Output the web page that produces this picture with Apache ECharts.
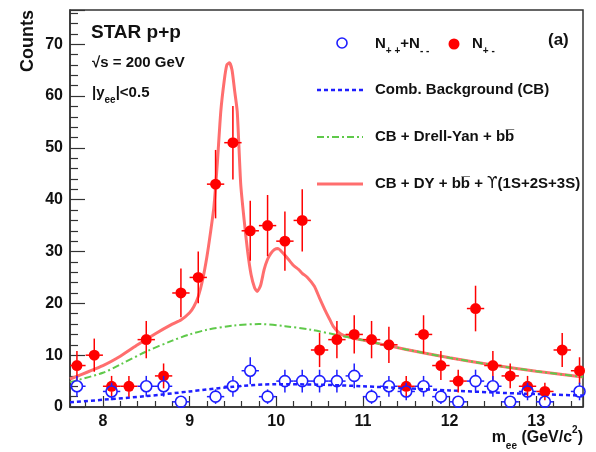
<!DOCTYPE html>
<html><head><meta charset="utf-8">
<script src="https://cdn.jsdelivr.net/npm/echarts@6/dist/echarts.min.js"></script>
<style>html,body{margin:0;padding:0;background:#fff}#c{width:596px;height:452px}</style>
</head><body><div id="c"></div>
<script>
// ---- data ----
const binCenters = [7.7,7.9,8.1,8.3,8.5,8.7,8.9,9.1,9.3,9.5,9.7,9.9,10.1,10.3,10.5,10.7,10.9,11.1,11.3,11.5,11.7,11.9,12.1,12.3,12.5,12.7,12.9,13.1,13.3,13.5];
const unlikeSign    = [8,10,4,4,13,6,22,25,43,51,34,35,32,36,11,13,14,13,12,4,14,8,5,19,8,6,4,3,11,7];
const unlikeSignErr = [2.8,3.2,2,2,3.6,2.4,4.7,5,6.6,7.1,5.8,5.9,5.7,6,3.3,3.6,3.7,3.6,3.5,2,3.7,2.8,2.2,4.4,2.8,2.4,2,1.7,3.3,2.6];
const likeSign      = [4,null,3,null,4,4,1,null,2,4,7,2,5,5,5,5,6,2,4,3,4,2,1,5,4,1,3,1,null,3];
const likeSignErr   = [2,null,1.7,null,2,2,1,null,1.4,2,2.6,1.4,2.2,2.2,2.2,2.2,2.4,1.4,2,1.7,2,1.4,1,2.2,2,1,1.7,1,null,1.7];
const binHalfWidth = 0.1;

const cbX = [7.62,8.0,8.5,9.0,9.5,10.0,10.5,11.0,11.5,12.0,12.5,13.0,13.54];
const cbY = [0.9,1.4,2.1,3.0,3.9,4.4,4.3,4.0,3.6,3.2,2.8,2.5,2.2];

const dyX = [7.62,8.0,8.2,8.5,8.8,9.0,9.2,9.5,9.8,10.1,10.4,10.7,11.0,11.5,12.0,12.5,13.0,13.54];
const dyY = [4.8,6.6,8.2,10.7,12.8,14.0,14.9,15.7,16.0,15.6,14.9,13.9,12.9,11.1,9.5,8.1,6.9,5.8];

const totX = [7.62,8.0,8.2,8.4,8.6,8.8,8.9,9.0,9.05,9.1,9.15,9.2,9.24,9.28,9.32,9.36,9.4,9.43,9.46,9.49,9.52,9.55,9.59,9.63,9.67,9.71,9.75,9.78,9.82,9.86,9.9,9.94,9.98,10.02,10.06,10.1,10.14,10.2,10.26,10.3,10.36,10.44,10.5,10.56,10.62,10.66,10.72,10.78,11.0,11.5,12.0,12.5,13.0,13.54];
const totY = [5.4,8.0,9.8,12.0,14.1,16.0,16.8,18.2,19.4,21.3,24.5,29,33.5,38.5,47,57,63,66,66.4,65,61,57,43,36,30,25.5,23,22.3,23.5,26.5,28.5,29.7,30.4,30.6,30,29.3,28.5,27.3,26.5,25.8,25,23.3,21,18.8,16.8,15.5,14.4,13.8,12.9,11.1,9.5,8.1,6.9,5.8];

const xTickLabels = [8,9,10,11,12,13];
const yTickLabels = [0,10,20,30,40,50,60,70];
const xRange = [7.62, 13.54];
const yRange = [0, 76.6];

// ---- build ----
const pair = (xs, ys) => xs.map((x,i)=>[x, ys[i]]);
const unlikeData = binCenters.map((x,i)=>[x, unlikeSign[i], unlikeSignErr[i]]);
const likeData = binCenters.map((x,i)=>[x, likeSign[i], likeSignErr[i]]).filter(d=>d[1]!=null);

function errRender(color, gap) {
  return function(params, api) {
    const x = api.value(0), y = api.value(1), e = api.value(2);
    const c = api.coord([x, y]);
    const top = api.coord([x, y + e]);
    const bot = api.coord([x, Math.max(y - e, yRange[0])]);
    const l = api.coord([x - binHalfWidth, y]);
    const r = api.coord([x + binHalfWidth, y]);
    const st = {stroke: color, lineWidth: 1.5};
    const ch = [];
    if (c[1] - gap > top[1]) ch.push({type:'line', shape:{x1:c[0],y1:top[1],x2:c[0],y2:c[1]-gap}, style:st});
    if (bot[1] > c[1] + gap) ch.push({type:'line', shape:{x1:c[0],y1:c[1]+gap,x2:c[0],y2:bot[1]}, style:st});
    ch.push({type:'line', shape:{x1:l[0],y1:c[1],x2:c[0]-gap,y2:c[1]}, style:st});
    ch.push({type:'line', shape:{x1:c[0]+gap,y1:c[1],x2:r[0],y2:c[1]}, style:st});
    return {type:'group', children: ch};
  };
}

const FONT = '"Liberation Sans", Arial, Helvetica, sans-serif';
const RED = '#ff0000', BLUE = '#1e1eff', LRED = '#ff6e6e', GREEN = '#5fc94a';
const SUB = {font:'bold 10px '+FONT, fill:'#111', lineHeight:11, verticalAlign:'bottom'};
const SUP = {font:'bold 10px '+FONT, fill:'#111', lineHeight:11, verticalAlign:'top'};

const chart = echarts.init(document.getElementById('c'), null, {renderer:'canvas'});
chart.setOption({
  animation: false,
  backgroundColor: '#fff',
  grid: {left: 70, right: 13, top: 10, bottom: 45, show: true, borderColor: '#333', borderWidth: 1.5, backgroundColor: 'transparent'},
  xAxis: {
    type: 'value', min: xRange[0], max: xRange[1],
    axisLine: {show: true, onZero: false, lineStyle: {color: '#333', width: 1.5}},
    axisTick: {show: true, inside: true, length: 11, lineStyle: {color: '#333', width: 1.2}},
    minorTick: {show: true, splitNumber: 5, length: 6, lineStyle: {color: '#333', width: 1.2}},
    axisLabel: {show: true, margin: 7, color: '#111', fontFamily: FONT, fontWeight: 'bold', fontSize: 16,
      formatter: v => xTickLabels.indexOf(Math.round(v*1000)/1000) >= 0 ? String(Math.round(v)) : ''},
    splitLine: {show: false}, minorSplitLine: {show: false}
  },
  yAxis: {
    type: 'value', min: yRange[0], max: yRange[1], interval: 10,
    axisLine: {show: true, lineStyle: {color: '#333', width: 1.5}},
    axisTick: {show: true, inside: true, length: 15, lineStyle: {color: '#333', width: 1.2}},
    minorTick: {show: true, splitNumber: 5, length: 8, lineStyle: {color: '#333', width: 1.2}},
    axisLabel: {show: true, margin: 7, color: '#111', fontFamily: FONT, fontWeight: 'bold', fontSize: 16,
      formatter: v => yTickLabels.indexOf(v) >= 0 ? String(v) : ''},
    splitLine: {show: false}
  },
  series: [
    {type:'line', name:'CB + DY + bb + Upsilon', data: pair(totX, totY), showSymbol:false, smooth:0.2,
      lineStyle:{color: LRED, width: 3}, z: 2},
    {type:'line', name:'CB + Drell-Yan + bb', data: pair(dyX, dyY), showSymbol:false, smooth:0.3,
      lineStyle:{color: GREEN, width: 2, type:[7,3,2,3]}, z: 3},
    {type:'line', name:'Comb. Background (CB)', data: pair(cbX, cbY), showSymbol:false, smooth:0.3,
      lineStyle:{color: BLUE, width: 2.5, type:[4,3]}, z: 3},
    {type:'custom', name:'N+- err', data: unlikeData, renderItem: errRender(RED, 5), encode:{x:0,y:1}, z: 4, clip: true},
    {type:'scatter', name:'N+-', data: unlikeData.map(d=>[d[0],d[1]]), symbol:'circle', symbolSize: 11,
      itemStyle:{color: RED, opacity: 1}, z: 5},
    {type:'custom', name:'N++ + N-- err', data: likeData, renderItem: errRender(BLUE, 5.5), encode:{x:0,y:1}, z: 6, clip: true},
    {type:'scatter', name:'N++ + N--', data: likeData.map(d=>[d[0],d[1]]), symbol:'circle', symbolSize: 11,
      itemStyle:{color: 'rgba(255,255,255,0)', borderColor: BLUE, borderWidth: 1.6, opacity: 1}, z: 7}
  ],
  graphic: [
    {type:'text', x:91, y:33, style:{text:'STAR p+p', font:'bold 19px '+FONT, fill:'#111', verticalAlign:'middle'}},
    {type:'text', x:92, y:63, style:{text:'√s = 200 GeV', font:'bold 15px '+FONT, fill:'#111', verticalAlign:'middle'}},
    {type:'text', x:92, y:93, style:{text:'{m||y}{s|ee}{m||<0.5}', font:'bold 15px '+FONT, fill:'#111', verticalAlign:'middle',
      rich:{m:{font:'bold 15px '+FONT, fill:'#111', lineHeight:24, verticalAlign:'middle'}, s:SUB}}},
    {type:'text', x:28, y:41, rotation:Math.PI/2, style:{text:'Counts', font:'bold 18px '+FONT, fill:'#111', align:'center', verticalAlign:'middle'}},
    {type:'text', x:583, y:438, style:{text:'{m|m}{s|ee}{m| (GeV/c}{p|2}{m|)}', align:'right', verticalAlign:'middle', fill:'#111',
      rich:{m:{font:'bold 16px '+FONT, fill:'#111', lineHeight:26, verticalAlign:'middle'}, s:SUB, p:SUP}}},
    // legend
    {type:'circle', shape:{cx:342, cy:43, r:5}, style:{fill:'#fff', stroke:BLUE, lineWidth:1.6}},
    {type:'text', x:375, y:44, style:{text:'{m|N}{s|+ +}{m|+N}{s|- -}', verticalAlign:'middle', fill:'#111',
      rich:{m:{font:'bold 15px '+FONT, fill:'#111', lineHeight:24, verticalAlign:'middle'}, s:SUB}}},
    {type:'circle', shape:{cx:454, cy:44, r:5.5}, style:{fill:RED}},
    {type:'text', x:472, y:44, style:{text:'{m|N}{s|+ -}', verticalAlign:'middle', fill:'#111',
      rich:{m:{font:'bold 15px '+FONT, fill:'#111', lineHeight:24, verticalAlign:'middle'}, s:SUB}}},
    {type:'text', x:548, y:40, style:{text:'(a)', font:'bold 17px '+FONT, fill:'#111', verticalAlign:'middle'}},
    {type:'line', shape:{x1:317, y1:90, x2:363, y2:90}, style:{stroke:BLUE, lineWidth:2.5, lineDash:[4,3]}},
    {type:'text', x:375, y:90, style:{text:'Comb. Background (CB)', font:'bold 15px '+FONT, fill:'#111', verticalAlign:'middle'}},
    {type:'line', shape:{x1:317, y1:137, x2:363, y2:137}, style:{stroke:GREEN, lineWidth:2, lineDash:[7,3,2,3]}},
    {type:'text', x:375, y:137, style:{text:'CB + Drell-Yan + bb\u0305', font:'bold 15px '+FONT, fill:'#111', verticalAlign:'middle'}},
    {type:'line', shape:{x1:317, y1:184, x2:363, y2:184}, style:{stroke:LRED, lineWidth:3}},
    {type:'text', x:375, y:184, style:{text:'{m|CB + DY + bb\u0305 + }{u|\u03D2}{m|(1S+2S+3S)}', verticalAlign:'middle', fill:'#111',
      rich:{m:{font:'bold 15px '+FONT, fill:'#111'}, u:{font:'15px "DejaVu Sans", sans-serif', fill:'#111'}}}}
  ]
});
</script>
</body></html>
